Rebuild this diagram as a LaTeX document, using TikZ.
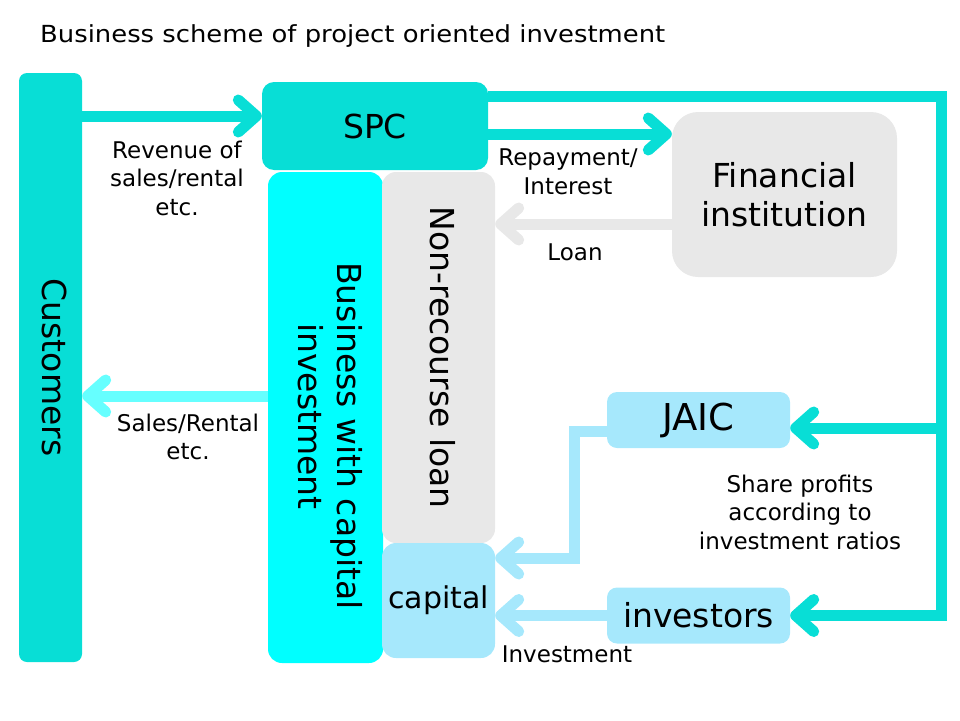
\documentclass[tikz,border=0pt]{standalone}
\usepackage{fontspec}
\setmainfont{DejaVu Sans}
\newfontfamily\titlefont[FakeStretch=1.1]{DejaVu Sans}
\usetikzlibrary{arrows.meta}
\definecolor{figturq}{RGB}{8,222,214}
\definecolor{figcyan}{RGB}{0,255,255}
\definecolor{figaqua}{RGB}{102,255,255}
\definecolor{figgray}{RGB}{232,232,232}
\definecolor{figsky}{RGB}{166,232,252}
\newcommand{\bigtxt}{\fontsize{33}{39}\selectfont}
\newcommand{\labeltxt}{\fontsize{23}{28.5}\selectfont}
\newcommand{\vtext}[2][0pt]{\rotatebox{-90}{\hspace*{#1}\begin{tabular}{@{}c@{}}#2\end{tabular}}}
\tikzstyle{block} = [inner sep=0pt, rounded corners=10pt, font=\bigtxt, align=center]
\tikzstyle{flow} = [line width=11pt, -{Straight Barb[length=18pt, width=32pt, round]}]
\tikzstyle{lbl} = [font=\labeltxt, align=center]

\begin{document}
\begin{tikzpicture}[x=1pt, y=-1pt]
    \useasboundingbox (0,0) rectangle (960,720);
    \node[anchor=base west, inner sep=0pt, font=\titlefont\fontsize{23.5}{28}\selectfont] (title) at (40,42)
        {Business scheme of project oriented investment};

    % boxes
    \node[block, fill=figturq, rounded corners=8pt, minimum width=63pt, minimum height=589pt] (cust) at (50.5,367.5)
        {\vtext{Customers}};
    \node[block, fill=figturq, rounded corners=12pt, minimum width=226pt, minimum height=88pt] (spc) at (375,126) {SPC};
    \node[block, fill=figcyan, rounded corners=14pt, minimum width=115pt, minimum height=491pt] (biz) at (325.5,417.5)
        {\vtext[37pt]{Business with capital\\investment\hspace*{39pt}}};
    \node[block, fill=figgray, rounded corners=14pt, minimum width=113pt, minimum height=371pt] (nrl) at (438.5,357.5)
        {\vtext{Non-recourse loan}};
    \node[block, fill=figsky, rounded corners=14pt, minimum width=113pt, minimum height=115pt,
        font=\fontsize{30}{36}\selectfont] (cap) at (438.5,600.5) {capital};
    \node[block, fill=figgray, rounded corners=26pt, minimum width=225pt, minimum height=165pt] (fin) at (784.5,194.5)
        {Financial\\institution};
    \node[block, fill=figsky, minimum width=183pt, minimum height=56pt,
        font=\fontsize{37}{40}\selectfont] (jaic) at (698.5,420) {JAIC};
    \node[block, fill=figsky, minimum width=183pt, minimum height=56pt] (inv) at (698.5,615.5) {investors};

    % connectors
    \coordinate (revenue) at ([yshift=10pt]spc.west);
    \draw[flow, figturq] (cust.east |- revenue) -- (revenue);
    \coordinate (repay) at ([yshift=-8pt]spc.east);
    \draw[flow, figturq] (repay) -- (repay -| fin.west);
    \coordinate (loan) at ([yshift=-29.5pt]fin.west);
    \draw[flow, figgray] (loan) -- (loan -| nrl.east);
    \coordinate (sales) at ([yshift=21.5pt]biz.west);
    \draw[flow, figaqua] (sales) -- (sales -| cust.east);

    \coordinate (rail) at ([yshift=30pt]spc.east);
    \coordinate (railx) at ([xshift=453pt]rail);
    \draw[flow, figturq] (rail) -- (railx) |- (inv.east);
    \draw[flow, figturq] ([yshift=-8pt]jaic.east -| railx) -- ([yshift=-8pt]jaic.east);

    \coordinate (jaicout) at ([yshift=-11pt]jaic.west);
    \coordinate (capin) at ([yshift=42.5pt]cap.east);
    \draw[flow, figsky] (jaicout) -- ++(-32,0) |- (capin);
    \draw[flow, figsky] (inv.west) -- (inv.west -| cap.east);

    % labels
    \node[lbl] (revlbl) at (177,178) {Revenue of\\sales/rental\\etc.};
    \node[lbl] (replbl) at (568,172) {Repayment/\\Interest};
    \node[lbl] (loanlbl) at (575,252) {Loan};
    \node[lbl] (saleslbl) at (188,437) {Sales/Rental\\etc.};
    \node[lbl] (sharelbl) at (800,512) {Share profits\\according to\\investment ratios};
    \node[lbl] (invlbl) at (567,654) {Investment};
\end{tikzpicture}
\end{document}
